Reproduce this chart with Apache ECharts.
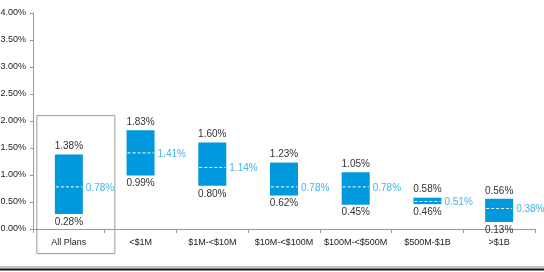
<!DOCTYPE html>
<html><head><meta charset="utf-8">
<script src="https://cdn.jsdelivr.net/npm/echarts@6/dist/echarts.min.js"></script>
<style>html,body{margin:0;padding:0;background:#fff}#c{width:544px;height:272px}</style>
</head><body><div id="c"></div>
<script>
const categories = ['All Plans','<$1M','$1M-<$10M','$10M-<$100M','$100M-<$500M','$500M-$1B','>$1B'];
const highValues = [1.38,1.83,1.60,1.23,1.05,0.58,0.56];
const lowValues = [0.28,0.99,0.80,0.62,0.45,0.46,0.13];
const medianValues = [0.78,1.41,1.14,0.78,0.78,0.51,0.38];
const yTicks = {min:0, max:4, interval:0.5};

const FONT = '"Liberation Sans Narrow","Liberation Sans",Arial,sans-serif';
const BAR_W = 28;
const data = categories.map((c,i)=>[i, lowValues[i], highValues[i], medianValues[i]]);

const chart = echarts.init(document.getElementById('c'));
chart.setOption({
  animation:false,
  grid:{left:33,right:9,top:13,bottom:43,containLabel:false,outerBoundsMode:'none'},
  xAxis:{type:'category',data:categories,boundaryGap:true,
    axisLine:{lineStyle:{color:'#999'}},
    axisTick:{show:true,interval:0,length:4,lineStyle:{color:'#999'}},
    axisLabel:{color:'#222',fontSize:9,fontFamily:FONT,margin:9,interval:0}},
  yAxis:{type:'value',min:yTicks.min,max:yTicks.max,interval:yTicks.interval,
    axisLine:{show:true,lineStyle:{color:'#999'}},
    axisTick:{show:true,length:3,lineStyle:{color:'#999'}},
    splitLine:{show:false},
    axisLabel:{color:'#222',fontSize:9,fontFamily:FONT,margin:7,formatter:v=>v.toFixed(2)+'%'}},
  series:[{
    type:'custom',
    data:data,
    encode:{x:0,y:[1,2]},
    renderItem:function(params,api){
      const i=api.value(0);
      const pLow=api.coord([i,api.value(1)]);
      const pHigh=api.coord([i,api.value(2)]);
      const pMed=api.coord([i,api.value(3)]);
      const x0=pLow[0]-BAR_W/2;
      const txt={fontFamily:FONT,fontSize:10,fill:'#333'};
      return {type:'group',children:[
        {type:'rect',shape:{x:x0,y:pHigh[1],width:BAR_W,height:pLow[1]-pHigh[1]},style:{fill:'#0099DD'}},
        {type:'line',shape:{x1:x0+1,y1:pMed[1],x2:x0+BAR_W-1,y2:pMed[1]},style:{stroke:'#fff',lineWidth:1,lineDash:[3,2]}},
        {type:'text',style:Object.assign({},txt,{text:api.value(2).toFixed(2)+'%',x:pLow[0],y:pHigh[1]-3,align:'center',verticalAlign:'bottom'})},
        {type:'text',style:Object.assign({},txt,{text:api.value(1).toFixed(2)+'%',x:pLow[0],y:pLow[1]+3,align:'center',verticalAlign:'top'})},
        {type:'text',style:Object.assign({},txt,{fill:'#45B5E8',text:api.value(3).toFixed(2)+'%',x:x0+BAR_W+3,y:pMed[1]+1,align:'left',verticalAlign:'middle'})}
      ]};
    }
  }]
});
// decorative frame around first category
const pA = chart.convertToPixel({xAxisIndex:0,yAxisIndex:0},[0,2.1]);
chart.setOption({graphic:[
  {type:'rect',shape:{x:pA[0]-32,y:pA[1],width:78,height:138},style:{fill:'none',stroke:'#999',lineWidth:1}},
  {type:'line',shape:{x1:0,y1:267,x2:544,y2:267},style:{stroke:'#888',lineWidth:1}},
  {type:'line',shape:{x1:0,y1:269.5,x2:544,y2:269.5},style:{stroke:'#111',lineWidth:2}}
]});
</script></body></html>
